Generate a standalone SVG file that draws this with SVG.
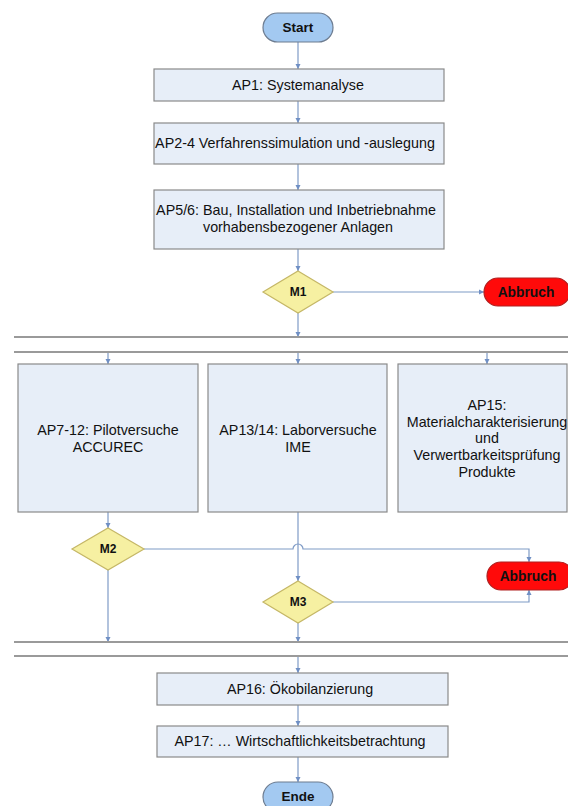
<svg xmlns="http://www.w3.org/2000/svg" width="568" height="806" viewBox="0 0 568 806">
<style>
.bg{fill:#ffffff}
.box{fill:#e7eef8;stroke:#8a8a8a;stroke-width:1.2}
.term{fill:#a3c9f1;stroke:#6d7c90;stroke-width:1.2}
.dec{fill:#f6f0a2;stroke:#c5b766;stroke-width:1.2}
.stop{fill:#ff0a0a;stroke:#b02020;stroke-width:1.2}
.bar{stroke:#9a9a9a;stroke-width:2;fill:none}
.con{stroke:#7f9bc6;stroke-width:1.2;fill:none}
text{font-family:"Liberation Sans",Arial,sans-serif;fill:#111;text-anchor:middle}
.t{font-size:14.3px}
.b{font-size:13.5px;font-weight:bold}
.m{font-size:12px;font-weight:bold}
.a{font-size:13.8px;font-weight:bold}
</style>
<defs>
<marker id="arr" markerWidth="6" markerHeight="6" refX="5" refY="3" orient="auto" markerUnits="userSpaceOnUse">
<path d="M0,0.5 L5,3 L0,5.5 Z" fill="#6f8fc4"/>
</marker>
</defs>
<rect class="bg" x="0" y="0" width="568" height="806"/>

<g id="connectors">
<line class="con" x1="298" y1="42" x2="298" y2="69" marker-end="url(#arr)"/>
<line class="con" x1="298" y1="101" x2="298" y2="123" marker-end="url(#arr)"/>
<line class="con" x1="298" y1="164" x2="298" y2="190" marker-end="url(#arr)"/>
<line class="con" x1="298" y1="249" x2="298" y2="271" marker-end="url(#arr)"/>
<line class="con" x1="333" y1="292" x2="484" y2="292" marker-end="url(#arr)"/>
<line class="con" x1="298" y1="313" x2="298" y2="337" marker-end="url(#arr)"/>
<line class="con" x1="108" y1="352" x2="108" y2="364" marker-end="url(#arr)"/>
<line class="con" x1="298" y1="352" x2="298" y2="364" marker-end="url(#arr)"/>
<line class="con" x1="487" y1="352" x2="487" y2="364" marker-end="url(#arr)"/>
<line class="con" x1="108" y1="512" x2="108" y2="528" marker-end="url(#arr)"/>
<path class="con" d="M144,549 H293 A5,5 0 0 1 303,549 H529 V562" marker-end="url(#arr)"/>
<line class="con" x1="298" y1="512" x2="298" y2="581" marker-end="url(#arr)"/>
<path class="con" d="M333,602 H529 V590" marker-end="url(#arr)"/>
<line class="con" x1="108" y1="570" x2="108" y2="642" marker-end="url(#arr)"/>
<line class="con" x1="298" y1="623" x2="298" y2="642" marker-end="url(#arr)"/>
<line class="con" x1="298" y1="656" x2="298" y2="673" marker-end="url(#arr)"/>
<line class="con" x1="298" y1="705" x2="298" y2="726" marker-end="url(#arr)"/>
<line class="con" x1="298" y1="757" x2="298" y2="782" marker-end="url(#arr)"/>
</g>

<g id="bars">
<line class="bar" x1="14" y1="337" x2="568" y2="337"/>
<line class="bar" x1="14" y1="352" x2="568" y2="352"/>
<line class="bar" x1="14" y1="642" x2="568" y2="642"/>
<line class="bar" x1="14" y1="656" x2="568" y2="656"/>
</g>

<g id="start">
<rect class="term" x="263" y="13" width="70" height="29" rx="14.5"/>
<text class="b" x="298" y="32">Start</text>
</g>
<g id="ap1">
<rect class="box" x="154" y="69" width="290" height="32"/>
<text class="t" x="298" y="90">AP1: Systemanalyse</text>
</g>
<g id="ap2">
<rect class="box" x="154" y="123" width="290" height="41"/>
<text class="t" x="295" y="148">AP2-4 Verfahrenssimulation und -auslegung</text>
</g>
<g id="ap5">
<rect class="box" x="154" y="190" width="290" height="59"/>
<text class="t" x="296" y="215">AP5/6: Bau, Installation und Inbetriebnahme</text>
<text class="t" x="298" y="232">vorhabensbezogener Anlagen</text>
</g>
<g id="m1">
<polygon class="dec" points="298,271 333,292 298,313 263,292"/>
<text class="m" x="298" y="296">M1</text>
</g>
<g id="abbruch1">
<rect class="stop" x="484" y="278" width="86" height="28" rx="14"/>
<text class="a" x="526" y="297">Abbruch</text>
</g>
<g id="ap7">
<rect class="box" x="18" y="364" width="180" height="148"/>
<text class="t" x="108" y="435">AP7-12: Pilotversuche</text>
<text class="t" x="108" y="452">ACCUREC</text>
</g>
<g id="ap13">
<rect class="box" x="208" y="364" width="179" height="148"/>
<text class="t" x="298" y="435">AP13/14: Laborversuche</text>
<text class="t" x="298" y="452">IME</text>
</g>
<g id="ap15">
<rect class="box" x="398" y="364" width="169" height="148"/>
<text class="t" x="487" y="410">AP15:</text>
<text class="t" x="487" y="427">Materialcharakterisierung</text>
<text class="t" x="487" y="443">und</text>
<text class="t" x="487" y="460">Verwertbarkeitsprüfung</text>
<text class="t" x="487" y="477">Produkte</text>
</g>
<g id="m2">
<polygon class="dec" points="108,528 144,549 108,570 72,549"/>
<text class="m" x="108" y="553">M2</text>
</g>
<g id="abbruch2">
<rect class="stop" x="487" y="562" width="86" height="28" rx="14"/>
<text class="a" x="528" y="581">Abbruch</text>
</g>
<g id="m3">
<polygon class="dec" points="298,581 333,602 298,623 263,602"/>
<text class="m" x="298" y="606">M3</text>
</g>
<g id="ap16">
<rect class="box" x="157" y="673" width="291" height="32"/>
<text class="t" x="300" y="694">AP16: Ökobilanzierung</text>
</g>
<g id="ap17">
<rect class="box" x="157" y="726" width="291" height="31"/>
<text class="t" x="300" y="746">AP17: … Wirtschaftlichkeitsbetrachtung</text>
</g>
<g id="ende">
<rect class="term" x="263" y="782" width="70" height="30" rx="15"/>
<text class="b" x="298" y="801">Ende</text>
</g>
</svg>
